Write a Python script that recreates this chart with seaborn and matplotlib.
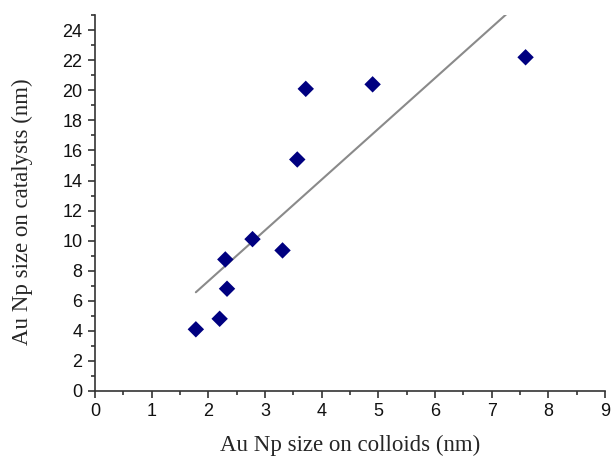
import numpy as np
import pandas as pd
import matplotlib
matplotlib.use('Agg')
import matplotlib.pyplot as plt
import seaborn as sns
from matplotlib.ticker import MultipleLocator

# sizes
colloid_size = [1.78, 2.20, 2.33, 2.30, 2.78, 3.31, 3.57, 3.72, 4.90, 7.60]
catalyst_size = [4.1, 4.8, 6.8, 8.75, 10.1, 9.35, 15.4, 20.1, 20.4, 22.2]

df = pd.DataFrame({'colloid': colloid_size, 'catalyst': catalyst_size})

sns.set_style('ticks')

fig = plt.figure(figsize=(6.11, 4.61), dpi=100)
ax = fig.add_axes([0.1555, 0.152, 0.8345, 0.815])

# linear fit, drawn between min and max x
sns.regplot(data=df, x='colloid', y='catalyst', ax=ax, scatter=False, ci=None,
            truncate=True, line_kws={'color': '#8a8a8a', 'lw': 1.5})
sns.scatterplot(data=df, x='colloid', y='catalyst', ax=ax, marker='D', s=70,
                color='#000080', edgecolor='none', zorder=3)

ax.set_xlim(0, 9)
ax.set_ylim(0, 25)
ax.xaxis.set_major_locator(MultipleLocator(1))
ax.xaxis.set_minor_locator(MultipleLocator(0.5))
ax.yaxis.set_major_locator(MultipleLocator(2))
ax.yaxis.set_minor_locator(MultipleLocator(1))

ax.tick_params(which='major', length=5, width=1.2, color='#333333',
               labelsize=13, labelcolor='#111111', pad=4)
ax.tick_params(which='minor', length=3, width=1.2, color='#333333')
for lab in ax.get_xticklabels() + ax.get_yticklabels():
    lab.set_family('Liberation Sans')

for side in ['top', 'right']:
    ax.spines[side].set_visible(False)
for side in ['left', 'bottom']:
    ax.spines[side].set_color('#333333')
    ax.spines[side].set_linewidth(1.2)

ax.set_xlabel('Au Np size on colloids (nm)', family='Liberation Serif', fontsize=16.5,
              labelpad=10)
ax.set_ylabel('Au Np size on catalysts (nm)', family='Liberation Serif', fontsize=16.5)
ax.yaxis.set_label_coords(-0.122, 0.476)

plt.savefig('out.png', dpi=100)
